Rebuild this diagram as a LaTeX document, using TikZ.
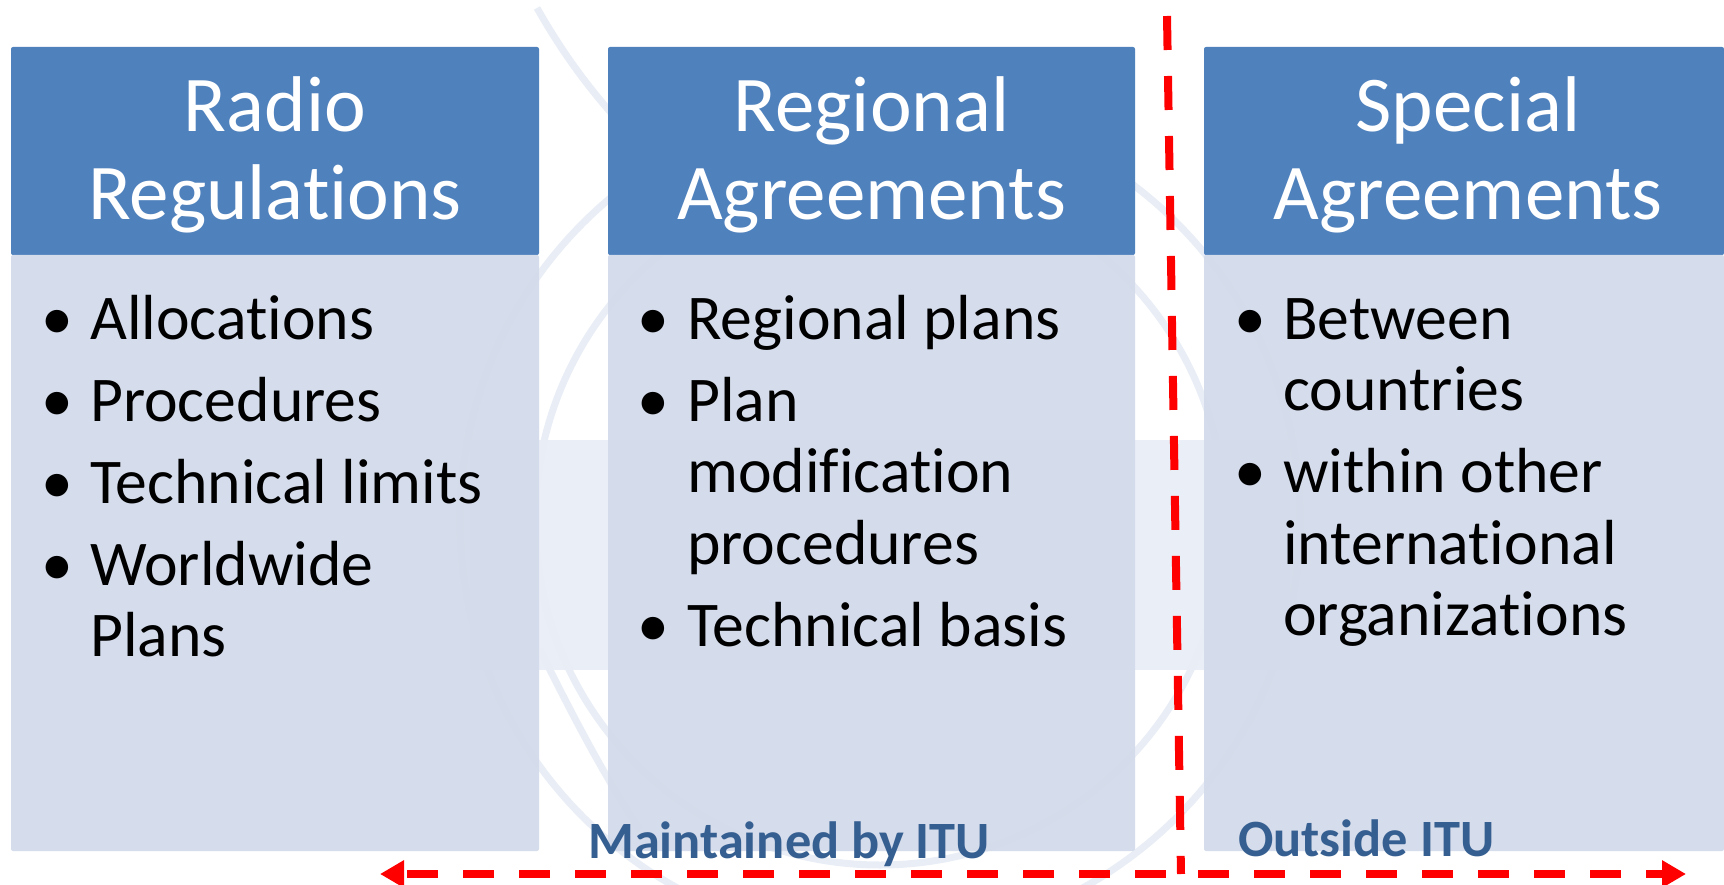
\documentclass[tikz,border=0pt]{standalone}
\usepackage{fontspec}
\setmainfont{Carlito}[Ligatures={NoCommon,NoRare,NoContextual}]
\usetikzlibrary{arrows.meta}
\definecolor{hdr}{HTML}{4F81BD}
\definecolor{bod}{HTML}{D3DBEA}
\definecolor{lab}{HTML}{365F91}
\definecolor{wm}{HTML}{E9EEF6}
\definecolor{wmband}{HTML}{E9EEF7}
\begin{document}
\begin{tikzpicture}[x=1pt,y=-1pt,
  hdrbox/.style={fill=hdr,draw=none,rounded corners=2pt},
  bodbox/.style={fill=bod,fill opacity=0.95,draw=none,rounded corners=2pt},
  hdrtxt/.style={anchor=base,inner sep=0pt,text=white,font=\fontsize{79}{88}\selectfont},
  bodtxt/.style={anchor=base west,inner sep=0pt,text=black,font=\fontsize{63.7}{70}\selectfont},
  bul/.style={anchor=base,inner sep=0pt,text=black,font=\fontsize{63.7}{70}\selectfont},
  labtxt/.style={anchor=base west,inner sep=0pt,text=lab,font=\bfseries\fontsize{52.4}{60}\selectfont},
  redline/.style={draw=red,line width=8pt},
  wmline/.style={draw=wm,line width=7pt}
]
\useasboundingbox (0,0) rectangle (1724,885);
\fill[white] (0,0) rectangle (1724,885);

% faint watermark
\fill[wmband] (470,440) rectangle (1290,670);
\draw[wmline] (880,520) circle [radius=345];
\draw[wmline] (880,520) circle [radius=420];
\draw[wmline] (537,8) .. controls (575,75) and (620,130) .. (690,190);
\draw[wmline] (540,650) .. controls (565,700) and (600,770) .. (640,830);

% boxes
\path[hdrbox] (11,47) rectangle (539,255);
\path[bodbox] (11,255) rectangle (539,851);
\path[hdrbox] (608,47) rectangle (1135,255);
\path[bodbox] (608,255) rectangle (1135,851);
\path[hdrbox] (1204,47) rectangle (1724,255);
\path[bodbox] (1204,255) rectangle (1724,851);

% headers
\node[hdrtxt] (h1a) at (275,132) {Radio};
\node[hdrtxt] (h1b) at (275,220) {Regulations};
\node[hdrtxt] (h2a) at (871.5,132) {Regional};
\node[hdrtxt] (h2b) at (871.5,220) {Agreements};
\node[hdrtxt] (h3a) at (1468,132) {Special};
\node[hdrtxt] (h3b) at (1468,220) {Agreements};

% box 1 bullets
\node[bul] (p1) at (57,339) {•};
\node[bodtxt] (t1) at (90,339) {Allocations};
\node[bul] (p2) at (57,421) {•};
\node[bodtxt] (t2) at (90,421) {Procedures};
\node[bul] (p3) at (57,503) {•};
\node[bodtxt] (t3) at (90,503) {Technical limits};
\node[bul] (p4) at (57,585) {•};
\node[bodtxt] (t4) at (90,585) {Worldwide};
\node[bodtxt] (t5) at (90,656.5) {Plans};

% box 2 bullets
\node[bul] (q1) at (653,339) {•};
\node[bodtxt] (u1) at (687,339) {Regional plans};
\node[bul] (q2) at (653,421) {•};
\node[bodtxt] (u2) at (687,421) {Plan};
\node[bodtxt] (u3) at (687,492.5) {modification};
\node[bodtxt] (u4) at (687,564) {procedures};
\node[bul] (q3) at (653,646) {•};
\node[bodtxt] (u5) at (687,646) {Technical basis};

% box 3 bullets
\node[bul] (r1) at (1250,339) {•};
\node[bodtxt] (v1) at (1283,339) {Between};
\node[bodtxt] (v2) at (1283,410.5) {countries};
\node[bul] (r2) at (1250,492.5) {•};
\node[bodtxt] (v3) at (1283,492.5) {within other};
\node[bodtxt] (v4) at (1283,564) {international};
\node[bodtxt] (v5) at (1283,635.5) {organizations};

% labels
\node[labtxt] (lm) at (588,858) {Maintained by ITU};
\node[labtxt] (lo) at (1238,856) {Outside ITU};

% red dashed divider and arrows
\coordinate (vtop) at (1167,16);
\coordinate (corner) at (1181,874);
\coordinate (ltip) at (380,874);
\coordinate (rtip) at (1686,874);
\draw[redline,dash pattern=on 34pt off 26pt] (vtop) -- (corner);
\draw[redline,dash pattern=on 31pt off 25pt,dash phase=41pt,-{Triangle[length=24pt,width=26pt]}] (corner) -- (ltip);
\draw[redline,dash pattern=on 31pt off 25pt,dash phase=39pt,-{Triangle[length=24pt,width=26pt]}] (corner) -- (rtip);
\end{tikzpicture}
\end{document}
